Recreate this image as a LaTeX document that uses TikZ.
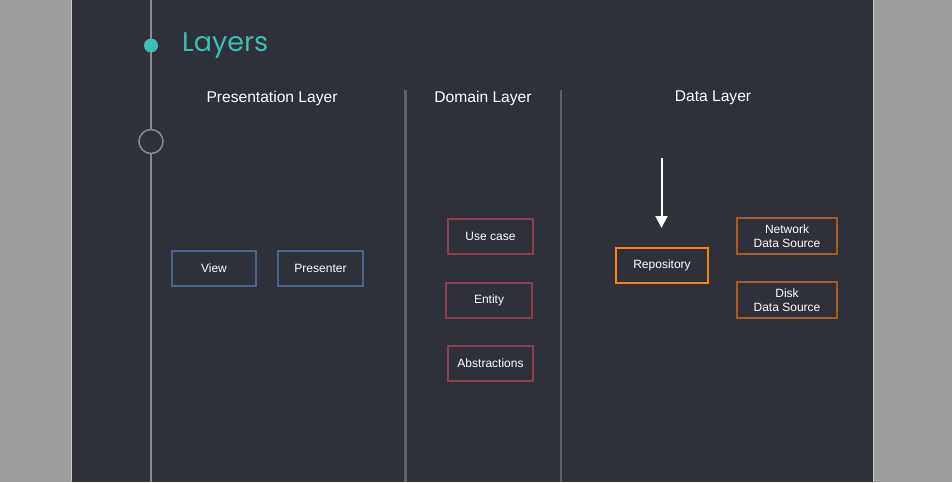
\documentclass[tikz,border=0pt]{standalone}
\usepackage{fontspec}
\setmainfont{Liberation Sans}
\newfontfamily\titlefont{Poppins}
\usetikzlibrary{arrows.meta}
\definecolor{outerbg}{HTML}{9E9E9E}
\definecolor{panelbg}{HTML}{2E3139}
\definecolor{edgecol}{HTML}{C8C8C8}
\definecolor{teal}{HTML}{3DBDB3}
\definecolor{timeline}{HTML}{8A8C90}
\definecolor{sepcol}{HTML}{5F6167}
\definecolor{bluebox}{HTML}{4A6389}
\definecolor{redbox}{HTML}{8E3D4A}
\definecolor{brownbox}{HTML}{A85C1F}
\definecolor{orangebox}{HTML}{F5860F}
\begin{document}
\begin{tikzpicture}[x=1pt,y=-1pt,
  box/.style={draw, line width=2pt, text=white, font=\fontsize{12}{14}\selectfont, align=center, inner sep=0pt},
  heading/.style={text=white, font=\fontsize{15.6}{18}\selectfont, inner sep=0pt, anchor=base}]
\useasboundingbox (0,0) rectangle (952,482);
\fill[outerbg] (0,0) rectangle (952,482);
\fill[panelbg] (72,0) rectangle (873,482);
\draw[edgecol, line width=1pt] (71.5,0) -- (71.5,482);
\draw[edgecol, line width=1pt] (873.5,0) -- (873.5,482);
% timeline
\coordinate (ttop) at (151,0);
\coordinate (tbot) at (151,482);
\draw[timeline, line width=1.5pt] (ttop) -- (tbot);
\node[circle, fill=teal, minimum size=14pt, inner sep=0pt] (dot) at (151,45.5) {};
\node[circle, draw=timeline, line width=1.5pt, fill=panelbg, minimum size=24pt, inner sep=0pt] (ring) at (151,141.5) {};
\node[text=teal, anchor=base west, inner sep=0pt, font=\titlefont\fontsize{27}{30}\selectfont] (title) at (182,51) {Layers};
% separators
\coordinate (s1t) at (405.5,90);
\coordinate (s1b) at (405.5,482);
\coordinate (s2t) at (561,90);
\coordinate (s2b) at (561,482);
\draw[sepcol, line width=2.5pt] (s1t) -- (s1b);
\draw[sepcol, line width=2.5pt] (s2t) -- (s2b);
% headings
\node[heading] (h1) at (272,102) {Presentation Layer};
\node[heading] (h2) at (483,102) {Domain Layer};
\node[heading] (h3) at (713,101) {Data Layer};
% presentation
\node[box, draw=bluebox, minimum width=84pt, minimum height=35pt] (view) at (214,268.5) {View};
\node[box, draw=bluebox, minimum width=85pt, minimum height=35pt] (presenter) at (320.5,268.5) {Presenter};
% domain
\node[box, draw=redbox, minimum width=85pt, minimum height=35pt] (usecase) at (490.5,236.5) {Use case};
\node[box, draw=redbox, minimum width=86pt, minimum height=35pt] (entity) at (489,300.5) {Entity};
\node[box, draw=redbox, minimum width=85pt, minimum height=35pt] (abstr) at (490.5,363.5) {Abstractions};
% data
\node[box, draw=orangebox, minimum width=92pt, minimum height=35pt] (repo) at (662,265.5) {Repository};
\node[box, draw=brownbox, minimum width=100pt, minimum height=36pt] (net) at (787,236) {Network\\Data Source};
\node[box, draw=brownbox, minimum width=100pt, minimum height=36pt] (disk) at (787,300) {Disk\\Data Source};
\coordinate (astart) at (661.5,158);
\coordinate (aend) at (661.5,228);
\draw[white, line width=2pt, -{Triangle[length=12pt,width=12pt]}] (astart) -- (aend);
\end{tikzpicture}
\end{document}
